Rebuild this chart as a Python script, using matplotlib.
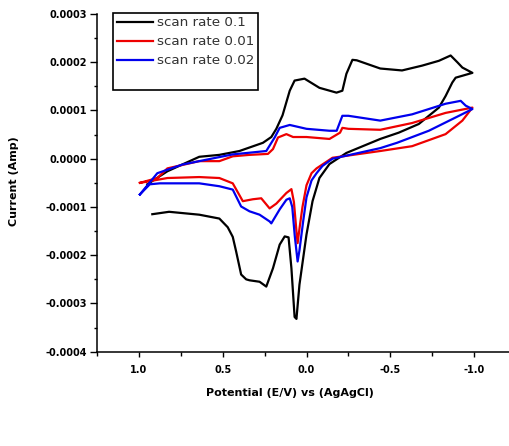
import numpy as np
import matplotlib
matplotlib.use("Agg")
import matplotlib.pyplot as plt
from matplotlib.lines import Line2D
from matplotlib.ticker import MultipleLocator, FormatStrFormatter

# --- data (potential in V, current in 1e-4 A) ---
pot_01 = [0.92, 0.82, 0.64, 0.52, 0.47, 0.44, 0.42, 0.39, 0.36, 0.34, 0.28, 0.24, 0.20,
          0.16, 0.13, 0.107, 0.09, 0.071, 0.06, 0.042, 0.0, -0.036, -0.077, -0.137,
          -0.238, -0.44, -0.55, -0.67, -0.79, -0.83, -0.87, -0.89, -0.99, -0.93, -0.90,
          -0.86, -0.79, -0.69, -0.57, -0.44, -0.30, -0.274, -0.238, -0.214, -0.179,
          -0.077, 0.012, 0.071, 0.10, 0.143, 0.18, 0.21, 0.26, 0.40, 0.52, 0.64, 0.83, 0.95]
cur_01 = [-1.15, -1.10, -1.16, -1.24, -1.42, -1.62, -1.92, -2.40, -2.50, -2.52, -2.55, -2.65,
          -2.27, -1.78, -1.61, -1.63, -2.27, -3.28, -3.32, -2.61, -1.57, -0.88, -0.40, -0.11,
          0.12, 0.41, 0.54, 0.72, 1.06, 1.30, 1.58, 1.68, 1.78, 1.89, 2.00, 2.14, 2.03, 1.93,
          1.83, 1.87, 2.04, 2.05, 1.76, 1.41, 1.37, 1.47, 1.66, 1.62, 1.41, 0.90, 0.62, 0.45,
          0.33, 0.16, 0.08, 0.04, -0.26, -0.53]

pot_001 = [0.994, 0.96, 0.83, 0.64, 0.52, 0.44, 0.38, 0.32, 0.27, 0.22, 0.18, 0.12, 0.09,
           0.075, 0.06, 0.053, 0.04, 0.024, 0.0, -0.03, -0.06, -0.155, -0.44, -0.63, -0.83,
           -0.93, -0.99, -0.83, -0.63, -0.44, -0.25, -0.214, -0.20, -0.137, 0.0, 0.08, 0.12,
           0.17, 0.20, 0.23, 0.34, 0.44, 0.52, 0.64, 0.83, 0.89, 0.994]
cur_001 = [-0.50, -0.48, -0.40, -0.38, -0.40, -0.51, -0.88, -0.84, -0.82, -1.03, -0.93, -0.71,
           -0.63, -0.90, -1.50, -1.75, -1.40, -1.00, -0.55, -0.30, -0.20, 0.02, 0.16, 0.26,
           0.51, 0.79, 1.06, 0.95, 0.74, 0.60, 0.62, 0.64, 0.54, 0.41, 0.45, 0.45, 0.51, 0.44,
           0.20, 0.10, 0.08, 0.05, -0.05, -0.05, -0.20, -0.40, -0.50]

pot_002 = [0.994, 0.935, 0.875, 0.74, 0.64, 0.52, 0.44, 0.39, 0.34, 0.28, 0.22, 0.21, 0.16,
           0.12, 0.10, 0.085, 0.07, 0.053, 0.042, 0.02, 0.0, -0.03, -0.06, -0.095, -0.155,
           -0.44, -0.54, -0.73, -0.91, -0.99, -0.95, -0.92, -0.83, -0.63, -0.44, -0.25, -0.214,
           -0.18, -0.137, 0.0, 0.10, 0.16, 0.19, 0.24, 0.44, 0.74, 0.89, 0.994]
cur_002 = [-0.74, -0.53, -0.51, -0.51, -0.51, -0.57, -0.64, -0.99, -1.09, -1.16, -1.30, -1.34,
           -1.05, -0.85, -0.82, -1.00, -1.60, -2.13, -1.90, -1.30, -0.80, -0.45, -0.30, -0.15,
           0.0, 0.22, 0.33, 0.58, 0.89, 1.03, 1.10, 1.20, 1.14, 0.92, 0.79, 0.89, 0.89, 0.58,
           0.58, 0.62, 0.70, 0.64, 0.44, 0.16, 0.09, -0.12, -0.30, -0.74]

labels = ["scan rate 0.1", "scan rate 0.01", "scan rate 0.02"]
colors = ["black", "#ee0000", "#0000ee"]

W, H = 509, 446
fig = plt.figure(figsize=(W / 100, H / 100), dpi=100)
ax = fig.add_axes([97 / W, 1 - 351.7 / H, (516 - 97) / W, (351.7 - 14) / H])

series = [(pot_01, cur_01), (pot_001, cur_001), (pot_002, cur_002)]
for (x, y), lab, c in zip(series, labels, colors):
    ax.plot(x, np.array(y) * 1e-4, color=c, lw=1.6, label=lab)

ax.set_xlim(1.25, -1.25)
ax.set_ylim(-0.0004, 0.0003)
ax.xaxis.set_major_locator(MultipleLocator(0.5))
ax.xaxis.set_minor_locator(MultipleLocator(0.25))
ax.yaxis.set_major_locator(MultipleLocator(0.0001))
ax.yaxis.set_minor_locator(MultipleLocator(0.00005))
ax.xaxis.set_major_formatter(FormatStrFormatter("%.1f"))
ax.yaxis.set_major_formatter(FormatStrFormatter("%.4f"))

for s in ["top", "right"]:
    ax.spines[s].set_visible(False)
for s in ["left", "bottom"]:
    ax.spines[s].set_linewidth(1.1)
ax.tick_params(axis="x", which="major", direction="out", length=3.5, width=1, pad=6)
ax.tick_params(axis="x", which="minor", direction="out", length=3, width=1)
ax.tick_params(axis="y", which="major", direction="out", length=5, width=1, pad=2)
ax.tick_params(axis="y", which="minor", direction="out", length=2.5, width=1)
for t in ax.get_xticklabels() + ax.get_yticklabels():
    t.set_fontsize(7)
    t.set_fontweight("bold")

fig.text(290 / W, 1 - 393 / H, "Potential (E/V) vs (AgAgCl)", ha="center", va="center",
         fontsize=8, fontweight="bold")
fig.text(14 / W, 1 - 181 / H, "Current (Amp)", ha="center", va="center", rotation=90,
         fontsize=8, fontweight="bold")

handles, labs = ax.get_legend_handles_labels()
handles.append(Line2D([], [], color="none"))
labs.append(" ")
leg = fig.legend(handles, labs, loc="upper left", bbox_to_anchor=(113 / W, 1 - 12.5 / H),
                 fontsize=9.7, handlelength=2.7, handletextpad=0.3, labelspacing=0.45,
                 borderpad=0.28, borderaxespad=0, fancybox=False, framealpha=1)
leg.get_frame().set_edgecolor("black")
leg.get_frame().set_linewidth(1.2)
for t in leg.get_texts():
    t.set_color("#333333")

fig.savefig("out.png", dpi=100)
